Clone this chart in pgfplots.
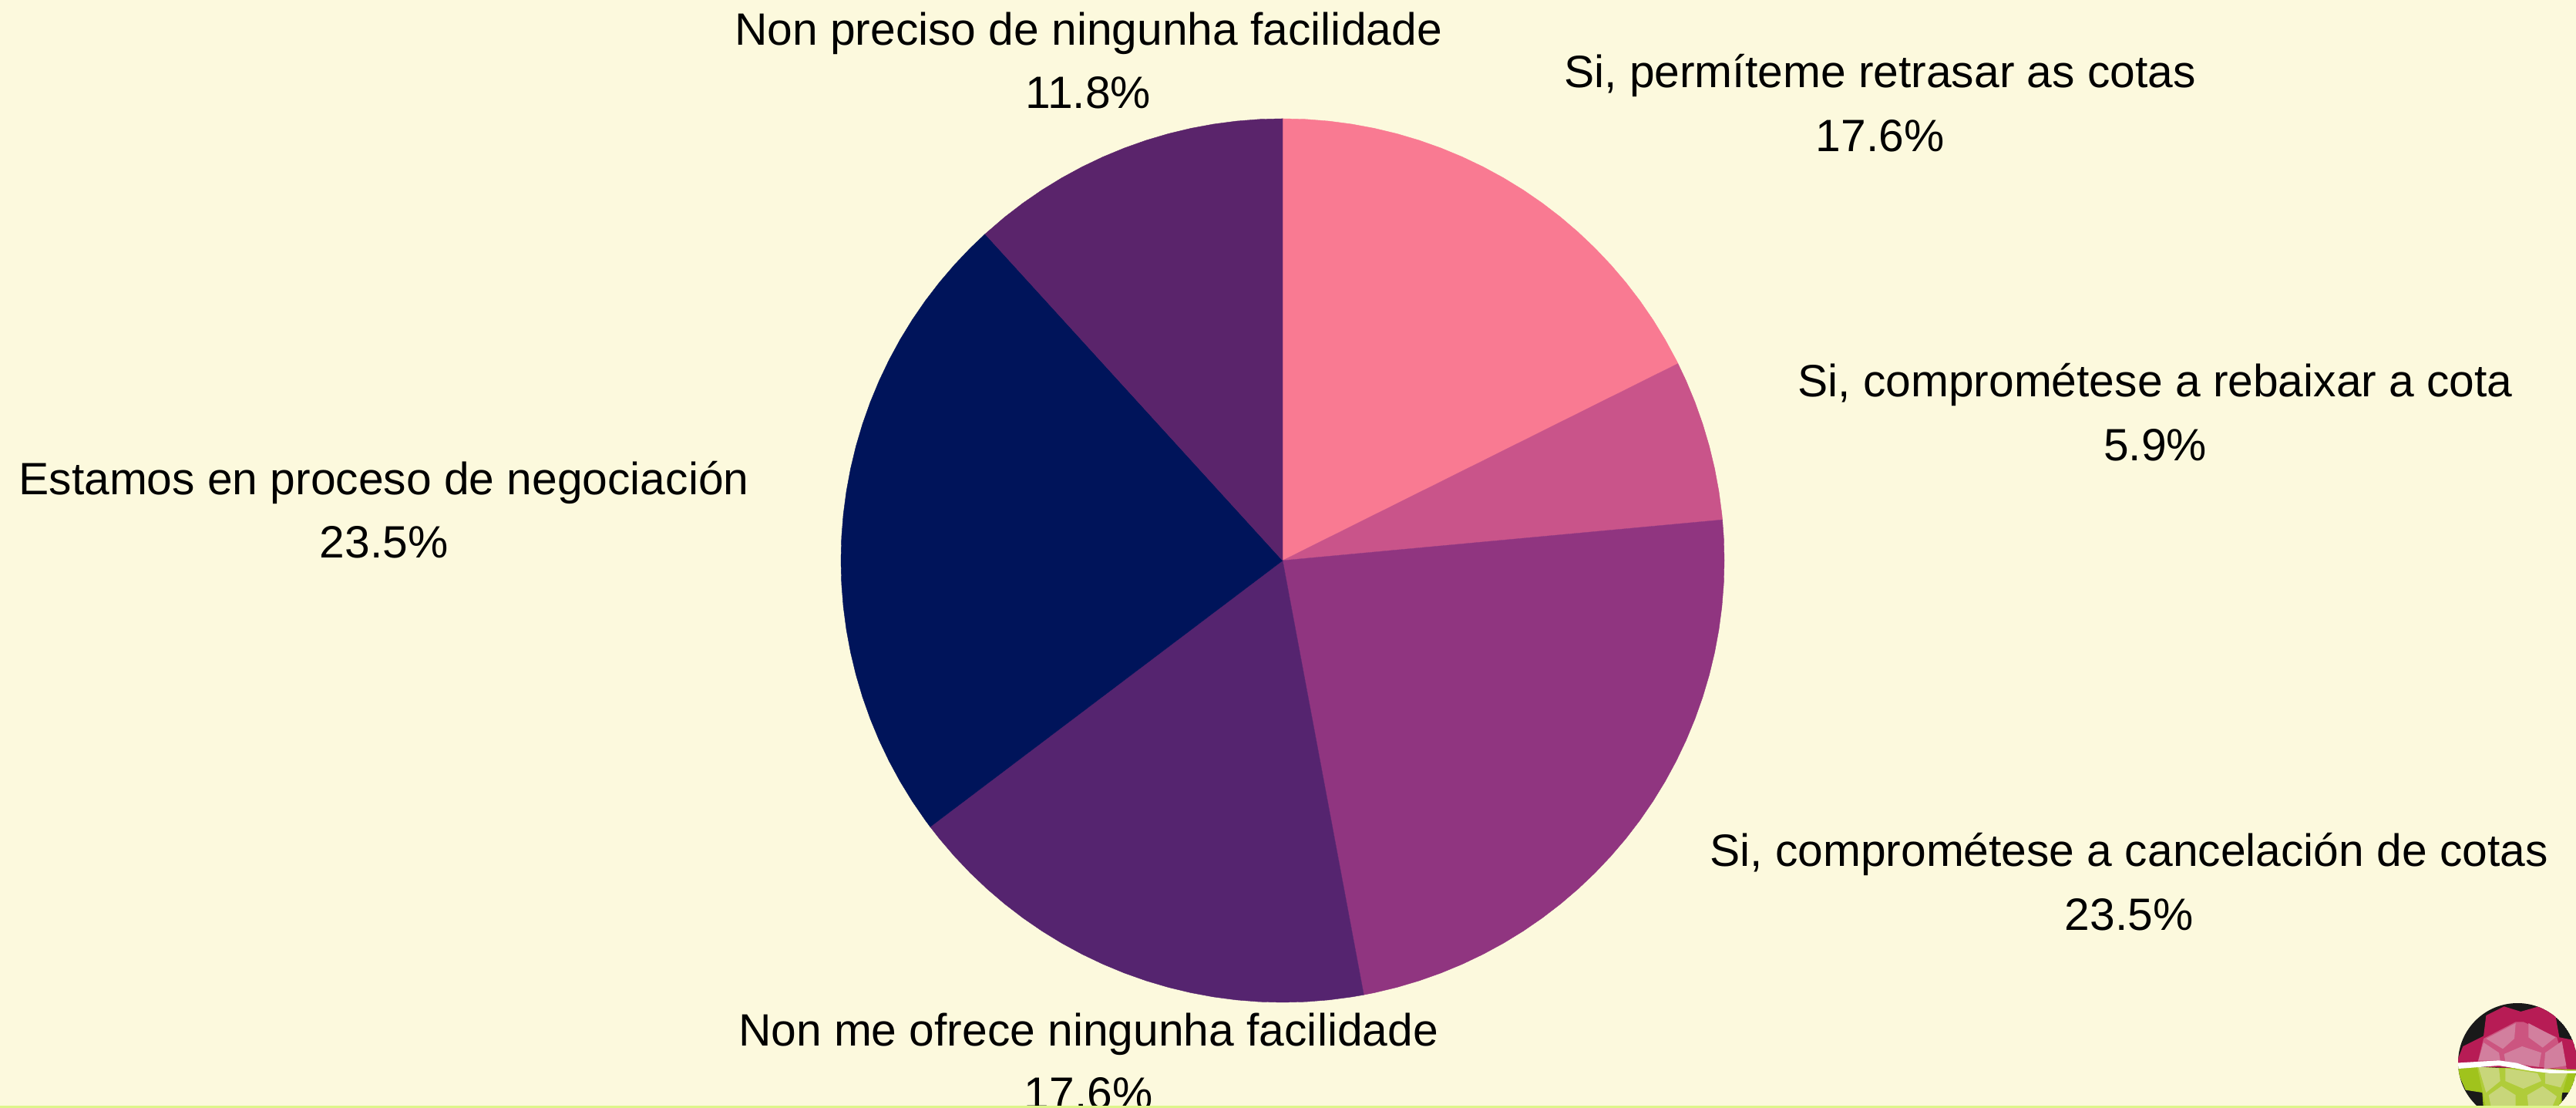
\documentclass[border=0pt]{standalone}
\usepackage{fontspec}
\setmainfont{Liberation Sans}
\usepackage{pgfplots}
\pgfplotsset{compat=1.18}
\definecolor{bgc}{HTML}{FCF9DD}
\definecolor{s1}{HTML}{F97A92}
\definecolor{s2}{HTML}{C9548A}
\definecolor{s3}{HTML}{903580}
\definecolor{s4}{HTML}{55246F}
\definecolor{s5}{HTML}{00145A}
\definecolor{s6}{HTML}{5A246B}
\definecolor{strip}{HTML}{DDF58A}
\definecolor{lmag}{HTML}{B71C55}
\definecolor{lmagl}{HTML}{CC5580}
\definecolor{lpink}{HTML}{D27F9E}
\definecolor{lgre}{HTML}{A0C31C}
\definecolor{lgrel}{HTML}{B0CC3A}
\definecolor{lgrep}{HTML}{C8D67A}
\newcommand{\lab}[3]{\node[anchor=base,inner sep=0pt,font=\fontsize{14.1}{14.1}\selectfont] at (axis cs:#1,#2) {#3};}
\begin{document}
\begin{tikzpicture}[x=1pt,y=1pt]
\path[use as bounding box,clip] (0,0) rectangle (802.08,344.88);
\fill[bgc] (0,0) rectangle (802.08,344.88);
\begin{axis}[at={(0pt,0pt)},anchor=south west,x=0.24pt,y=0.24pt,scale only axis,hide axis,
  xmin=-1664,xmax=1678,ymin=-710,ymax=727,clip=false]
\addplot[fill=s1,draw=s1,line width=0.1pt,data cs=polar] coordinates {(90,0)(90,573)(87,573)(84,573)(81,573)(78,573)(75,573)(72,573)(69,573)(66,573)(63,573)(60,573)(57,573)(54,573)(51,573)(48,573)(45,573)(42,573)(39,573)(36,573)(33,573)(30,573)(27,573)(26.47,573)} --cycle;
\addplot[fill=s2,draw=s2,line width=0.1pt,data cs=polar] coordinates {(26.47,0)(26.47,573)(24,573)(21,573)(18,573)(15,573)(12,573)(9,573)(6,573)(5.29,573)} --cycle;
\addplot[fill=s3,draw=s3,line width=0.1pt,data cs=polar] coordinates {(5.29,0)(5.29,573)(3,573)(0,573)(-3,573)(-6,573)(-9,573)(-12,573)(-15,573)(-18,573)(-21,573)(-24,573)(-27,573)(-30,573)(-33,573)(-36,573)(-39,573)(-42,573)(-45,573)(-48,573)(-51,573)(-54,573)(-57,573)(-60,573)(-63,573)(-66,573)(-69,573)(-72,573)(-75,573)(-78,573)(-79.41,573)} --cycle;
\addplot[fill=s4,draw=s4,line width=0.1pt,data cs=polar] coordinates {(-79.41,0)(-79.41,573)(-81,573)(-84,573)(-87,573)(-90,573)(-93,573)(-96,573)(-99,573)(-102,573)(-105,573)(-108,573)(-111,573)(-114,573)(-117,573)(-120,573)(-123,573)(-126,573)(-129,573)(-132,573)(-135,573)(-138,573)(-141,573)(-142.94,573)} --cycle;
\addplot[fill=s5,draw=s5,line width=0.1pt,data cs=polar] coordinates {(-142.94,0)(-142.94,573)(-144,573)(-147,573)(-150,573)(-153,573)(-156,573)(-159,573)(-162,573)(-165,573)(-168,573)(-171,573)(-174,573)(-177,573)(-180,573)(-183,573)(-186,573)(-189,573)(-192,573)(-195,573)(-198,573)(-201,573)(-204,573)(-207,573)(-210,573)(-213,573)(-216,573)(-219,573)(-222,573)(-225,573)(-227.65,573)} --cycle;
\addplot[fill=s6,draw=s6,line width=0.1pt,data cs=polar] coordinates {(132.35,0)(132.35,573)(129,573)(126,573)(123,573)(120,573)(117,573)(114,573)(111,573)(108,573)(105,573)(102,573)(99,573)(96,573)(93,573)(90,573)} --cycle;
\lab{-252}{668}{Non preciso de ningunha facilidade}
\lab{-252}{586}{11.8\%}
\lab{775}{613}{Si, permíteme retrasar as cotas}
\lab{775}{530}{17.6\%}
\lab{1132}{212}{Si, comprométese a rebaixar a cota}
\lab{1132}{129}{5.9\%}
\lab{1098}{-397}{Si, comprométese a cancelación de cotas}
\lab{1098}{-480}{23.5\%}
\lab{-252}{-630}{Non me ofrece ningunha facilidade}
\lab{-252}{-712}{17.6\%}
\lab{-1166}{85}{Estamos en proceso de negociación}
\lab{-1166}{3}{23.5\%}
\end{axis}
% logo, in the pixel grid of a 3x crop of the lower right corner
\begin{axis}[at={(754.08pt,0pt)},anchor=south west,x=0.08pt,y=0.08pt,scale only axis,hide axis,y dir=reverse,
  xmin=0,xmax=600,ymin=0,ymax=480,clip=false]
\begin{scope}
\clip (axis cs:372,303) circle[radius=231];
\fill[black!90] (axis cs:372,303) circle[radius=231];
\fill[lmag] (axis cs:240,200)--(axis cs:250,120)--(axis cs:320,85)--(axis cs:385,105)--(axis cs:455,85)--(axis cs:520,120)--(axis cs:535,205)--(axis cs:610,220)--(axis cs:610,335)--(axis cs:130,315)--(axis cs:160,240)--cycle;
\fill[lgre] (axis cs:130,320)--(axis cs:610,330)--(axis cs:610,420)--(axis cs:545,420)--(axis cs:545,490)--(axis cs:240,490)--(axis cs:235,420)--(axis cs:170,410)--cycle;
\fill[lmagl] (axis cs:218,300)--(axis cs:240,210)--(axis cs:365,145)--(axis cs:395,145)--(axis cs:525,205)--(axis cs:565,330)--cycle;
\fill[lpink] (axis cs:250,210)--(axis cs:365,150)--(axis cs:360,210)--(axis cs:315,250)--cycle;
\fill[lpink] (axis cs:415,150)--(axis cs:520,205)--(axis cs:470,245)--(axis cs:415,205)--cycle;
\fill[lpink] (axis cs:320,270)--(axis cs:390,240)--(axis cs:465,265)--(axis cs:455,320)--(axis cs:325,300)--cycle;
\fill[lpink] (axis cs:220,295)--(axis cs:240,225)--(axis cs:300,265)--(axis cs:305,295)--cycle;
\fill[lpink] (axis cs:480,265)--(axis cs:545,220)--(axis cs:562,315)--(axis cs:475,330)--cycle;
\fill[lgrel] (axis cs:215,320)--(axis cs:570,340)--(axis cs:530,480)--(axis cs:250,480)--cycle;
\fill[lgrep] (axis cs:220,320)--(axis cs:300,325)--(axis cs:305,375)--(axis cs:250,420)--cycle;
\fill[lgrep] (axis cs:325,325)--(axis cs:450,345)--(axis cs:465,375)--(axis cs:395,405)--(axis cs:325,375)--cycle;
\fill[lgrep] (axis cs:480,345)--(axis cs:565,345)--(axis cs:540,400)--(axis cs:480,385)--cycle;
\fill[lgrep] (axis cs:260,430)--(axis cs:310,395)--(axis cs:365,430)--(axis cs:365,480)--(axis cs:270,480)--cycle;
\fill[lgrep] (axis cs:410,430)--(axis cs:470,395)--(axis cs:525,435)--(axis cs:505,480)--(axis cs:415,480)--cycle;
\fill[white] (axis cs:130,305)--(axis cs:300,295)--(axis cs:370,305)--(axis cs:430,325)--(axis cs:570,335)--(axis cs:610,335)--(axis cs:610,345)--(axis cs:500,345)--(axis cs:420,335)--(axis cs:360,325)--(axis cs:300,315)--(axis cs:130,328)--cycle;
\end{scope}
\end{axis}
\fill[strip] (0,0) rectangle (802.08,0.6);
\end{tikzpicture}
\end{document}
